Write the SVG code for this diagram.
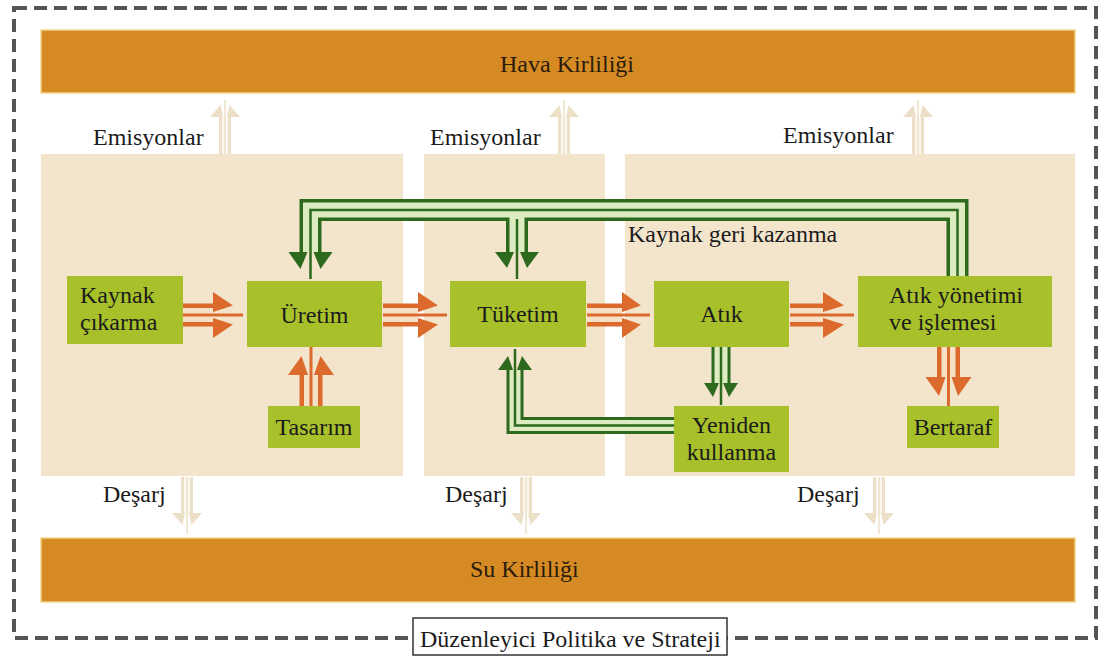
<svg xmlns="http://www.w3.org/2000/svg" width="1101" height="656" viewBox="0 0 1101 656" font-family="'Liberation Serif', 'DejaVu Serif', serif">
<style>
.t{font-family:'Liberation Serif','Times New Roman','DejaVu Serif','Noto Serif',serif;font-size:24px;fill:#1b1b1b}
.band{fill:#D68A23;stroke:#F2D68C;stroke-width:1.5}
.panel{fill:#F3E4CC}
.node{fill:#A8C12A}
.oo{fill:none;stroke:#DB6A2C;stroke-width:23}
.oi{fill:none;stroke:#F6E1C7;stroke-width:14}
.oc{fill:none;stroke:#DB6A2C;stroke-width:3}
.oh{fill:#DB6A2C}
.go{fill:none;stroke:#2E6A1E;stroke-width:22;stroke-linejoin:miter}
.gi{fill:none;stroke:#DCEBC0;stroke-width:15;stroke-linejoin:miter}
.gc{fill:none;stroke:#2E6A1E;stroke-width:2.5;stroke-linejoin:miter}
.gh{fill:#2E6A1E}
.po{fill:none;stroke:#ECDFC8;stroke-width:12}
.pi{fill:none;stroke:#FBF6EE;stroke-width:6}
.pc{fill:none;stroke:#ECDFC8;stroke-width:1.5}
.ph{fill:#ECDFC8}
</style>

<g id="border">
<rect x="14" y="8" width="1082" height="630" fill="none" stroke="#555" stroke-width="4" stroke-dasharray="13 7"/>
</g>

<g id="hava-kirliligi">
<rect class="band" x="41" y="30" width="1034" height="63"/>
<text class="t" x="567" y="72" text-anchor="middle" style="fill:#2a1c0c">Hava Kirliliği</text>
</g>
<g id="su-kirliligi">
<rect class="band" x="41" y="538" width="1034" height="64"/>
<text class="t" x="470" y="577" style="fill:#2a1c0c">Su Kirliliği</text>
</g>

<g id="panels">
<rect class="panel" x="41" y="154" width="362" height="322"/>
<rect class="panel" x="424" y="154" width="181" height="322"/>
<rect class="panel" x="625" y="154" width="450" height="322"/>
</g>

<g id="labels">
<text class="t" x="93" y="145">Emisyonlar</text>
<text class="t" x="430" y="145">Emisyonlar</text>
<text class="t" x="783" y="143">Emisyonlar</text>
<text class="t" x="103" y="502">Deşarj</text>
<text class="t" x="445" y="502">Deşarj</text>
<text class="t" x="797" y="502">Deşarj</text>
<text class="t" x="628" y="242">Kaynak geri kazanma</text>
</g>

<g id="connectors">
<g id="emissions">
<path class="po" d="M225 154V117M564 154V117M918 154V117"/>
<path class="pi" d="M225 154V117M564 154V117M918 154V117"/>
<path class="pc" d="M225 154V100M564 154V100M918 154V100"/>
<polygon class="ph" points="210,117 220.5,105 223,117"/><polygon class="ph" points="227,117 229.5,105 240,117"/>
<polygon class="ph" points="549,117 559.5,105 562,117"/><polygon class="ph" points="566,117 568.5,105 579,117"/>
<polygon class="ph" points="903,117 913.5,105 916,117"/><polygon class="ph" points="920,117 922.5,105 933,117"/>
</g>
<g id="discharges">
<path class="po" d="M187 477V513M526 477V513M879 477V513"/>
<path class="pi" d="M187 477V513M526 477V513M879 477V513"/>
<path class="pc" d="M187 477V534M526 477V534M879 477V534"/>
<polygon class="ph" points="172,513 182.5,525 185,513"/><polygon class="ph" points="189,513 191.5,525 202,513"/>
<polygon class="ph" points="511,513 521.5,525 524,513"/><polygon class="ph" points="528,513 530.5,525 541,513"/>
<polygon class="ph" points="864,513 874.5,525 877,513"/><polygon class="ph" points="881,513 883.5,525 894,513"/>
</g>

<g id="orange-arrows">
<path class="oo" d="M183 315H213M383 315H418M587 315H622M790 315H823M311 406V375M948.5 347V377"/>
<path class="oi" d="M183 315H213M383 315H418M587 315H622M790 315H823M311 406V375M948.5 347V377"/>
<path class="oc" d="M183 315H243M383 315H447M587 315H650M790 315H854M311 406V346M948.5 347V406"/>
<polygon class="oh" points="213,292 233,305.5 213,312"/><polygon class="oh" points="213,318 233,324.5 213,338"/>
<polygon class="oh" points="418,292 438,305.5 418,312"/><polygon class="oh" points="418,318 438,324.5 418,338"/>
<polygon class="oh" points="622,292 641,305.5 622,312"/><polygon class="oh" points="622,318 641,324.5 622,338"/>
<polygon class="oh" points="823,292 844,305.5 823,312"/><polygon class="oh" points="823,318 844,324.5 823,338"/>
<polygon class="oh" points="288,375 301.5,356 308,375"/><polygon class="oh" points="314,375 320.5,356 334,375"/>
<polygon class="oh" points="925.5,377 939,396 945.5,377"/><polygon class="oh" points="951.5,377 958,396 971.5,377"/>
</g>

<g id="green-arrows">
<path class="go" d="M957.5 276V210H310.5V252"/>
<path class="go" d="M517 210V252"/>
<path class="gi" d="M957.5 276V210H310.5V252"/>
<path class="gi" d="M517 212V252"/>
<path class="gc" d="M957.5 276V210H310.5V279"/>
<path class="gc" d="M517 219V279"/>
<polygon class="gh" points="288.5,252 300.5,269 307.5,252"/><polygon class="gh" points="313.5,252 320.5,269 332.5,252"/>
<polygon class="gh" points="495,252 507,268 514,252"/><polygon class="gh" points="520,252 527,268 539,252"/>

<path class="go" d="M674 425.5H515V370" style="stroke-width:17"/>
<path class="gi" d="M674 425.5H515V370" style="stroke-width:11"/>
<path class="gc" d="M674 425.5H515V349"/>
<polygon class="gh" points="498,370 508,356 513,370"/><polygon class="gh" points="517,370 522,356 532,370"/>

<path class="go" d="M721 347V383" style="stroke-width:19"/>
<path class="gi" d="M721 347V383" style="stroke-width:13"/>
<path class="gc" d="M721 347V405"/>
<polygon class="gh" points="704,383 713,397 719,383"/><polygon class="gh" points="723,383 729,397 738,383"/>
</g>
</g>

<g id="kaynak-cikarma">
<rect class="node" x="67" y="276" width="116" height="68"/>
<text class="t" x="80" y="303">Kaynak</text>
<text class="t" x="80" y="330">çıkarma</text>
</g>
<g id="uretim">
<rect class="node" x="247" y="281" width="135" height="66"/>
<text class="t" x="314.5" y="323" text-anchor="middle">Üretim</text>
</g>
<g id="tasarim">
<rect class="node" x="268" y="406" width="92" height="42"/>
<text class="t" x="314" y="435" text-anchor="middle">Tasarım</text>
</g>
<g id="tuketim">
<rect class="node" x="450" y="281" width="136" height="66"/>
<text class="t" x="518" y="322" text-anchor="middle">Tüketim</text>
</g>
<g id="atik">
<rect class="node" x="654" y="281" width="135" height="66"/>
<text class="t" x="721.5" y="322" text-anchor="middle">Atık</text>
</g>
<g id="yeniden-kullanma">
<rect class="node" x="674" y="406" width="115" height="66"/>
<text class="t" x="731.5" y="433" text-anchor="middle">Yeniden</text>
<text class="t" x="731.5" y="460" text-anchor="middle">kullanma</text>
</g>
<g id="atik-yonetimi">
<rect class="node" x="858" y="276" width="194" height="71"/>
<text class="t" x="889" y="303">Atık yönetimi</text>
<text class="t" x="889" y="330">ve işlemesi</text>
</g>
<g id="bertaraf">
<rect class="node" x="907" y="406" width="92" height="42"/>
<text class="t" x="953" y="435" text-anchor="middle">Bertaraf</text>
</g>

<g id="politika">
<rect x="413" y="618" width="314" height="37" fill="#fff" stroke="#333" stroke-width="1.5"/>
<text class="t" x="420" y="647">Düzenleyici Politika ve Strateji</text>
</g>
</svg>
